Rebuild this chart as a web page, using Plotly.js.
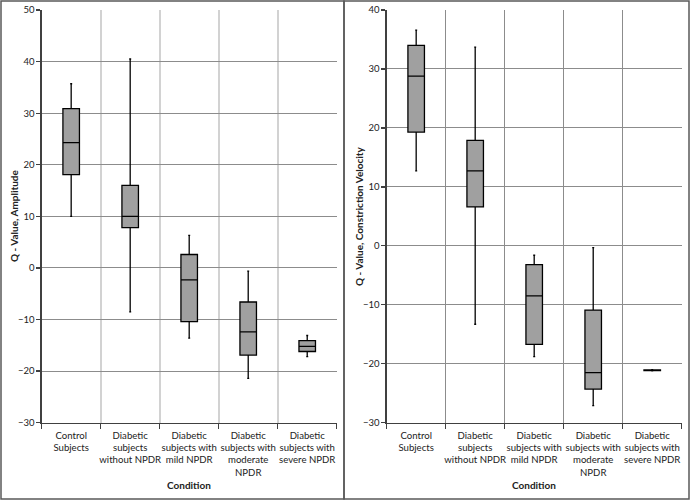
<!DOCTYPE html>
<html>
<head>
<meta charset="utf-8">
<script src="https://cdn.plot.ly/plotly-3.0.1.min.js"></script>
<style>html,body{margin:0;padding:0;background:#fff;}#chart{width:690px;height:500px;}</style>
</head>
<body>
<div id="chart"></div>
<script>
// ---- data ----
const categories = ["Control Subjects", "Diabetic subjects without NPDR", "Diabetic subjects with mild NPDR", "Diabetic subjects with moderate NPDR", "Diabetic subjects with severe NPDR"];
const tickLabels = ["Control<br>Subjects", "Diabetic<br>subjects<br>without NPDR", "Diabetic<br>subjects with<br>mild NPDR", "Diabetic<br>subjects with<br>moderate<br>NPDR", "Diabetic<br>subjects with<br>severe NPDR"];

// Amplitude panel
const ampLower  = [10.0, -8.5, -13.6, -21.4, -17.2];
const ampQ1     = [18.1, 7.8, -10.4, -16.9, -16.2];
const ampMedian = [24.3, 10.0, -2.3, -12.4, -15.2];
const ampQ3     = [30.9, 16.0, 2.6, -6.6, -14.1];
const ampUpper  = [35.7, 40.5, 6.3, -0.6, -13.1];

// Constriction velocity panel
const velLower  = [12.7, -13.3, -18.8, -27.1, -21.2];
const velQ1     = [19.3, 6.6, -16.7, -24.3, -21.15];
const velMedian = [28.8, 12.7, -8.5, -21.5, -21.1];
const velQ3     = [34.0, 17.9, -3.2, -10.9, -21.05];
const velUpper  = [36.6, 33.7, -1.6, -0.3, -21.0];

const yTitleLeft = "Q - Value, Amplitude";
const yTitleRight = "Q - Value, Constriction Velocity";
const xTitle = "Condition";

// ---- styling ----
const FONT = "Lato, 'Open Sans', sans-serif";
const boxStyle = {
  type: "box",
  fillcolor: "#a0a0a0",
  line: {color: "#000000", width: 1.3},
  whiskerwidth: 0.12,
  boxpoints: false,
  hoverinfo: "skip",
  showlegend: false
};

const traces = [
  Object.assign({}, boxStyle, {
    x: categories, q1: ampQ1, median: ampMedian, q3: ampQ3,
    lowerfence: ampLower, upperfence: ampUpper,
    xaxis: "x", yaxis: "y"
  }),
  Object.assign({}, boxStyle, {
    x: categories, q1: velQ1, median: velMedian, q3: velQ3,
    lowerfence: velLower, upperfence: velUpper,
    xaxis: "x2", yaxis: "y2"
  })
];

function xAx(domain, anchor, gridcolor, gridwidth) {
  return {
    domain: domain, anchor: anchor, type: "category",
    range: [-0.5, 4.5],
    tickvals: categories, ticktext: tickLabels, tickangle: 0,
    tickson: "boundaries", ticks: "outside", ticklen: 5, tickcolor: "#404040", tickwidth: 1.3,
    ticklabelstandoff: 3,
    showgrid: true, gridcolor: gridcolor, gridwidth: gridwidth,
    showline: true, linecolor: "#404040", linewidth: 1.3,
    tickfont: {family: FONT, size: 9.6, color: "#222"},
    fixedrange: true
  };
}
function yAx(domain, anchor, range) {
  return {
    domain: domain, anchor: anchor, range: range, dtick: 10, tick0: 0,
    ticks: "outside", ticklen: 4, tickcolor: "#404040", tickwidth: 1.3,
    showgrid: true, gridcolor: "#8c8c8c", gridwidth: 1,
    zeroline: false,
    showline: true, linecolor: "#404040", linewidth: 1.3,
    tickfont: {family: FONT, size: 9.5, color: "#222"},
    fixedrange: true
  };
}

const yDom = [0.1546, 0.98];
const layout = {
  width: 690, height: 500,
  margin: {l: 0, r: 0, t: 0, b: 0},
  paper_bgcolor: "#ffffff", plot_bgcolor: "#ffffff",
  boxgap: 0.6,
  xaxis: xAx([0.0604, 0.488], "y", "#d2d2d2", 2),
  yaxis: yAx(yDom, "x", [-30, 50]),
  xaxis2: xAx([0.5604, 0.988], "y2", "#8c8c8c", 1),
  yaxis2: yAx(yDom, "x2", [-30, 40]),
  annotations: [
    {text: "<b>" + xTitle + "</b>", xref: "paper", yref: "paper", x: 0.274, y: 0.03, xanchor: "center", yanchor: "middle", showarrow: false, font: {family: FONT, size: 10, color: "#222"}},
    {text: "<b>" + xTitle + "</b>", xref: "paper", yref: "paper", x: 0.774, y: 0.03, xanchor: "center", yanchor: "middle", showarrow: false, font: {family: FONT, size: 10, color: "#222"}},
    {text: "<b>" + yTitleLeft + "</b>", xref: "paper", yref: "paper", x: 0.0203, y: 0.568, xanchor: "center", yanchor: "middle", textangle: -90, showarrow: false, font: {family: FONT, size: 10, color: "#222"}},
    {text: "<b>" + yTitleRight + "</b>", xref: "paper", yref: "paper", x: 0.5203, y: 0.568, xanchor: "center", yanchor: "middle", textangle: -90, showarrow: false, font: {family: FONT, size: 10, color: "#222"}}
  ],
  shapes: [
    {type: "rect", xref: "paper", yref: "paper", x0: 1/690, x1: 344/690, y0: 1/500, y1: 499/500, line: {color: "#595959", width: 1.5}},
    {type: "rect", xref: "paper", yref: "paper", x0: 344/690, x1: 689/690, y0: 1/500, y1: 499/500, line: {color: "#595959", width: 1.5}}
  ]
};

Plotly.newPlot("chart", traces, layout, {staticPlot: true, displayModeBar: false});
</script>
</body>
</html>
